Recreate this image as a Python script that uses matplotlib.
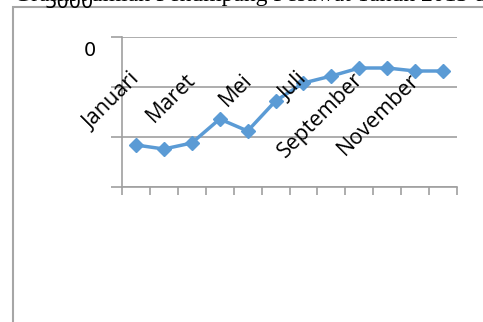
import numpy as np
import matplotlib.pyplot as plt
from matplotlib.patches import Rectangle

bulan = ['Januari', 'Februari', 'Maret', 'April', 'Mei', 'Juni', 'Juli',
         'Agustus', 'September', 'Oktober', 'November', 'Desember']
penumpang = [4200, 3800, 4400, 6800, 5600, 8600, 10400, 11100, 11900, 11900, 11600, 11600]
grid_y = [0, 5000, 10000, 15000]
label_y = ['0', '5000']

fig = plt.figure(figsize=(4.83, 3.22), dpi=100)
fig.patch.set_facecolor('white')

# bingkai luar grafik
fig.patches.append(Rectangle((13 / 483, -0.1), 1.2, 1 - 7 / 322 + 0.1,
                             transform=fig.transFigure, fill=False,
                             edgecolor='#a6a6a6', linewidth=1.5))

# judul yang terpotong di atas
fig.text(0.03, 1 - 0.5 / 322, 'Grafik Jumlah Penumpang Pesawat Tahun 2013 di Bandara',
         family='Liberation Serif', fontsize=17, va='baseline', ha='left')

ax = fig.add_axes([122 / 483, 1 - 187 / 322, (457 - 122) / 483, 150 / 322])
x = np.arange(len(bulan))
ax.plot(x, penumpang, color='#5b9bd5', linewidth=2.5, marker='D', markersize=7)

ax.set_xlim(-0.5, 11.5)
ax.set_ylim(0, 15000)
ax.set_yticks(grid_y)
ax.set_yticklabels([])
ax.set_xticks(np.arange(-0.5, 12, 1))
ax.set_xticklabels([])
ax.grid(axis='y', color='#a0a0a0', linewidth=1.2)
ax.set_axisbelow(True)
for s in ['top', 'right']:
    ax.spines[s].set_visible(False)
for s in ['left', 'bottom']:
    ax.spines[s].set_color('#a0a0a0')
    ax.spines[s].set_linewidth(1.2)
ax.tick_params(axis='y', length=8, color='#a0a0a0', width=1.2)
ax.tick_params(axis='x', length=6, color='#a0a0a0', width=1.2)

# label bulan di dalam area plot
for i in range(0, 12, 2):
    ax.text(i + 0.3, 10300, bulan[i], rotation=45, rotation_mode='anchor',
            ha='right', va='bottom', fontsize=15.5, family='Open Sans')

# label sumbu y yang bergeser
fig.text(90 / 483, 1 - 50 / 322, label_y[0], fontsize=14, family='DejaVu Sans',
         ha='center', va='center')
fig.text(69 / 483, 1 - 3 / 322, label_y[1], fontsize=14, family='DejaVu Sans',
         ha='center', va='center')

fig.savefig('out.png', dpi=100)
